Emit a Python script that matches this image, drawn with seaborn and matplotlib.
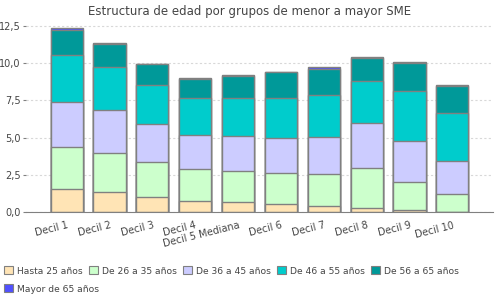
import pandas as pd
import matplotlib
matplotlib.use('Agg')
import matplotlib.pyplot as plt
import matplotlib.ticker as mticker
from matplotlib.patches import Patch
import seaborn as sns

###############################################################################

deciles = ['Decil 1', 'Decil 2', 'Decil 3', 'Decil 4', 'Decil 5 Mediana',
           'Decil 6', 'Decil 7', 'Decil 8', 'Decil 9', 'Decil 10']

series_names = ['Hasta 25 años', 'De 26 a 35 años', 'De 36 a 45 años',
                'De 46 a 55 años', 'De 56 a 65 años', 'Mayor de 65 años']

hasta_25 = [1.55, 1.35, 1.01, 0.74, 0.67, 0.56, 0.40, 0.25, 0.11, 0.00]
de_26_35 = [2.82, 2.62, 2.35, 2.15, 2.09, 2.06, 2.16, 2.71, 1.91, 1.23]
de_36_45 = [3.03, 2.91, 2.56, 2.27, 2.35, 2.38, 2.48, 3.03, 2.76, 2.20]
de_46_55 = [3.18, 2.87, 2.62, 2.51, 2.56, 2.65, 2.83, 2.82, 3.38, 3.23]
de_56_65 = [1.64, 1.55, 1.38, 1.29, 1.48, 1.75, 1.75, 1.55, 1.88, 1.81]
mayor_65 = [0.12, 0.04, 0.03, 0.03, 0.03, 0.02, 0.10, 0.04, 0.04, 0.08]

colors = ['#FFE4B5', '#CCFFCC', '#CCCCFF', '#00CCCC', '#009999', '#5050FF']

###############################################################################

df = pd.DataFrame({
    'decil': deciles,
    series_names[0]: hasta_25,
    series_names[1]: de_26_35,
    series_names[2]: de_36_45,
    series_names[3]: de_46_55,
    series_names[4]: de_56_65,
    series_names[5]: mayor_65,
})
cum = df[series_names].cumsum(axis=1)
cum['decil'] = df['decil']

plt.rcParams['font.family'] = ['DejaVu Sans']
fig = plt.figure(figsize=(5, 3), dpi=100)
ax = fig.add_axes([0.052, 0.293, 0.934, 0.64])

# draw stacked bars back to front: largest cumulative first
for name, color in reversed(list(zip(series_names, colors))):
    sns.barplot(
        x='decil', y=name, data=cum, color=color, width=0.75,
        edgecolor='#808080', linewidth=1.0, ax=ax, saturation=1)

ax.set_xlim(-0.95, 9.95)
ax.set_ylim(0, 12.9)
ax.set_xlabel('')
ax.set_ylabel('')
ax.yaxis.set_major_locator(mticker.MultipleLocator(2.5))
ax.yaxis.set_major_formatter(mticker.FuncFormatter(lambda v, p: f'{v:.1f}'.replace('.', ',')))
ax.grid(axis='y', color='#d8d8d8', linestyle=(0, (2, 2)), linewidth=0.8)
ax.set_axisbelow(True)
for side in ['top', 'right', 'left']:
    ax.spines[side].set_visible(False)
ax.spines['bottom'].set_color('#808080')
ax.tick_params(axis='y', labelsize=7, colors='#808080', labelcolor='#444444', length=2, width=0.8, pad=2)
ax.tick_params(axis='x', length=0, labelsize=7, labelcolor='#444444', pad=6)
plt.setp(ax.get_xticklabels(), rotation=14, ha='right', rotation_mode='anchor')

fig.suptitle('Estructura de edad por grupos de menor a mayor SME', y=0.985,
             fontsize=8.5, color='#444444')

handles = [Patch(facecolor=c, edgecolor='#808080', linewidth=0.8) for c in colors]
leg_kw = dict(frameon=False, fontsize=6.6, handlelength=1.0, handleheight=1.0,
              handletextpad=0.4, columnspacing=0.7, borderaxespad=0, borderpad=0,
              labelcolor='#444444')
fig.legend(handles[:5], series_names[:5], ncol=5, loc='center left',
           bbox_to_anchor=(0.008, 0.097), **leg_kw)
fig.legend(handles[5:], series_names[5:], ncol=1, loc='center left',
           bbox_to_anchor=(0.008, 0.037), **leg_kw)

fig.savefig('out.png', dpi=100)
plt.close(fig)
